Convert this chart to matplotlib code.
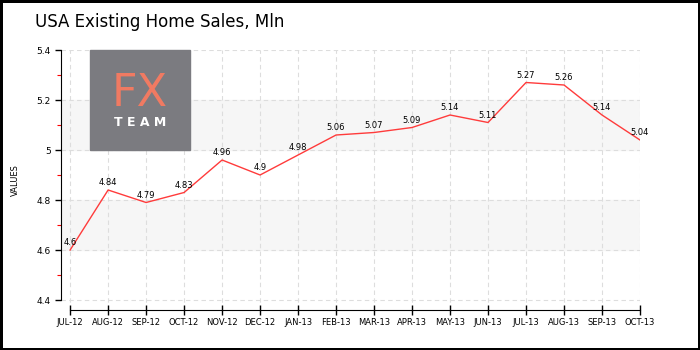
import matplotlib
matplotlib.use('Agg')
from matplotlib import pyplot as plt
from matplotlib.patches import Rectangle
from matplotlib.ticker import MultipleLocator

# monthly existing home sales, millions
months = ['JUL-12', 'AUG-12', 'SEP-12', 'OCT-12', 'NOV-12', 'DEC-12', 'JAN-13', 'FEB-13',
          'MAR-13', 'APR-13', 'MAY-13', 'JUN-13', 'JUL-13', 'AUG-13', 'SEP-13', 'OCT-13']
sales = [4.6, 4.84, 4.79, 4.83, 4.96, 4.9, 4.98, 5.06,
         5.07, 5.09, 5.14, 5.11, 5.27, 5.26, 5.14, 5.04]
labels = ['4.6', '4.84', '4.79', '4.83', '4.96', '4.9', '4.98', '5.06',
          '5.07', '5.09', '5.14', '5.11', '5.27', '5.26', '5.14', '5.04']
bands = [(4.6, 4.8), (5.0, 5.2)]

fig = plt.figure(figsize=(7, 3.5), dpi=100)
fig.patch.set_edgecolor('black')
fig.patch.set_linewidth(2.5)

ax = fig.add_axes([61/700, 40/350, 579/700, 260/350])
x = list(range(len(months)))

# shaded bands
for lo, hi in bands:
    ax.axhspan(lo, hi, color='#f6f6f6', zorder=0)

ax.plot(x, sales, color='#ff3b3b', lw=1, zorder=3)
for i, (v, t) in enumerate(zip(sales, labels)):
    ax.annotate(t, (i, v), xytext=(0, 2), textcoords='offset points',
                ha='center', va='bottom', fontsize=6, zorder=4)

ax.set_xlim(-0.24, 15)
ax.set_ylim(4.36, 5.4)
ax.set_xticks(x)
ax.set_xticklabels(months, fontsize=6)
ax.set_yticks([4.4, 4.6, 4.8, 5.0, 5.2, 5.4])
ax.set_yticklabels(['4.4', '4.6', '4.8', '5', '5.2', '5.4'], fontsize=6.5)
ax.yaxis.set_minor_locator(MultipleLocator(0.1))
ax.tick_params(axis='y', which='minor', length=3, color='red', width=0.8)
ax.tick_params(axis='y', which='major', length=4, width=1)
ax.tick_params(axis='x', direction='inout', length=7, width=1, pad=2)

for s in ['top', 'right']:
    ax.spines[s].set_visible(False)
ax.spines['left'].set_bounds(4.4, 5.4)
ax.spines['bottom'].set_bounds(0, 15)

ax.grid(True, color='#dddddd', linestyle=(0, (4, 3)), lw=0.8)
ax.set_axisbelow(True)
ax.set_ylabel('VALUES', fontsize=6, labelpad=12)

fig.text(35/700, 1 - 22/350, 'USA Existing Home Sales, Mln', fontsize=12,
         va='center', ha='left')

# logo
fig.patches.append(Rectangle((90/700, 200/350), 100/700, 100/350,
                             transform=fig.transFigure, color='#7b7b80', zorder=5))
fig.text(140/700, 1 - 94/350, 'FX', fontsize=32, color='#f07a62', ha='center',
         va='center', zorder=6)
fig.text(140/700, 1 - 122/350, 'T E A M', fontsize=9, color='white', ha='center',
         va='center', fontweight='bold', zorder=6)

fig.savefig('out.png', dpi=100, edgecolor=fig.get_edgecolor())
